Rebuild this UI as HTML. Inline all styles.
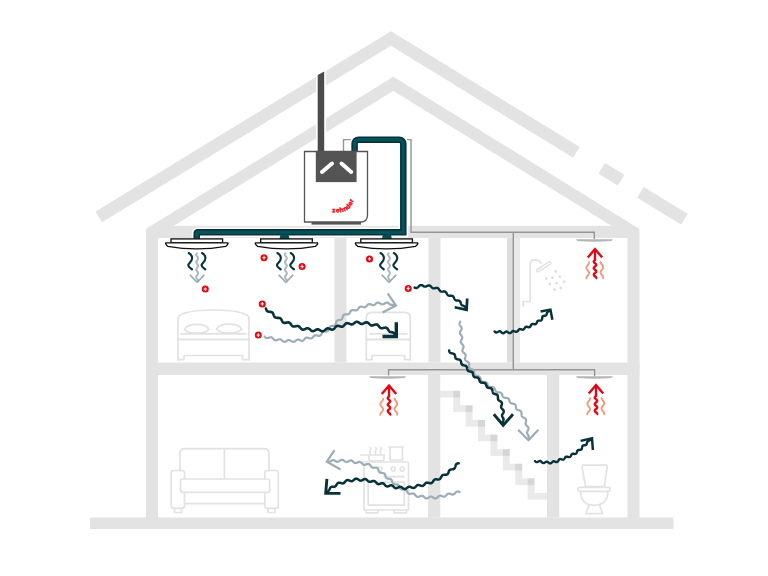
<!DOCTYPE html>
<html><head><meta charset="utf-8"><title>Ventilation diagram</title>
<style>html,body{margin:0;padding:0;background:#fff;width:768px;height:576px;overflow:hidden;}svg{display:block;font-family:"Liberation Sans",sans-serif;}</style>
</head><body>
<svg width="768" height="576" viewBox="0 0 768 576"><polyline points="98.75,216.8 391,38.5 576.4,152.3" fill="none" stroke="#e3e3e3" stroke-width="12.5" stroke-linejoin="miter" stroke-miterlimit="10"/>
<line x1="601.7" y1="168.3" x2="621.1" y2="180.2" stroke="#e3e3e3" stroke-width="12.5"/>
<line x1="640.5" y1="192.3" x2="684.4" y2="219.2" stroke="#e3e3e3" stroke-width="12.5"/>
<polyline points="152,523 152,232.2 393.4,83.8 633.5,232.3 633.5,523" fill="none" stroke="#e3e3e3" stroke-width="12" stroke-linejoin="miter" stroke-miterlimit="10"/>
<rect x="157" y="225.8" width="471.5" height="12.2" fill="#e3e3e3"/>
<rect x="146" y="362.5" width="493.5" height="12.5" fill="#e3e3e3"/>
<rect x="90" y="517.5" width="583.5" height="11.5" fill="#e3e3e3"/>
<rect x="334.5" y="238" width="12" height="124.5" fill="#e3e3e3"/>
<rect x="428.5" y="238" width="12" height="124.5" fill="#e3e3e3"/>
<rect x="507" y="238" width="6.5" height="124.5" fill="#dedede"/><rect x="513.5" y="238" width="6.5" height="124.5" fill="#e9e9e9"/>
<rect x="428" y="375" width="12.3" height="142.5" fill="#e3e3e3"/>
<rect x="547" y="375" width="12.3" height="142.5" fill="#e3e3e3"/>
<rect x="440.3" y="390.7" width="19.9" height="6.8" fill="#000" fill-opacity="0.082"/><rect x="453.2" y="390.7" width="7" height="14.6" fill="#000" fill-opacity="0.082"/><rect x="453.2" y="405.3" width="19.4" height="6.8" fill="#000" fill-opacity="0.082"/><rect x="465.6" y="405.3" width="7" height="14.6" fill="#000" fill-opacity="0.082"/><rect x="465.6" y="419.9" width="19.4" height="6.8" fill="#000" fill-opacity="0.082"/><rect x="478" y="419.9" width="7" height="14.6" fill="#000" fill-opacity="0.082"/><rect x="478" y="434.5" width="19.4" height="6.8" fill="#000" fill-opacity="0.082"/><rect x="490.4" y="434.5" width="7" height="14.6" fill="#000" fill-opacity="0.082"/><rect x="490.4" y="449.1" width="19.4" height="6.8" fill="#000" fill-opacity="0.082"/><rect x="502.8" y="449.1" width="7" height="14.6" fill="#000" fill-opacity="0.082"/><rect x="502.8" y="463.7" width="19.4" height="6.8" fill="#000" fill-opacity="0.082"/><rect x="515.2" y="463.7" width="7" height="14.6" fill="#000" fill-opacity="0.082"/><rect x="515.2" y="478.3" width="19.4" height="6.8" fill="#000" fill-opacity="0.082"/><rect x="527.6" y="478.3" width="7" height="14.6" fill="#000" fill-opacity="0.082"/><rect x="527.6" y="492.9" width="19.4" height="6.8" fill="#000" fill-opacity="0.082"/>
<g fill="none" stroke="#e2e2e2" stroke-width="1.7" stroke-linejoin="round" stroke-linecap="round"><path d="M178,360 V318.5 C178,312.5 195,310 213.5,310 C232,310 249,312.5 249,318.5 V360"/><path d="M184.7,329.3 C187.5,322.6 206.1,322.6 208.9,329.3 C206.1,334.3 187.5,334.3 184.7,329.3 Z"/><path d="M216.6,329.2 C219.4,322.5 238.8,322.5 241.6,329.2 C238.8,334.2 219.4,334.2 216.6,329.2 Z"/><path d="M181,333.8 H246"/><path d="M178,339.5 H249" stroke-width="2"/><path d="M178,359.6 H184 V355.5 H242.5 V359.6 H249"/></g>
<g fill="none" stroke="#e2e2e2" stroke-width="1.7" stroke-linejoin="round" stroke-linecap="round"><path d="M366.3,360 V318 Q366.3,312.4 372,312.4 H404.6 Q410.3,312.4 410.3,318 V360"/><path d="M366.3,339.5 H410.3" stroke-width="2"/><path d="M370,333.8 H407"/><path d="M366.3,359.6 H372 V355.5 H404.6 V359.6 H410.3"/></g>
<g fill="none" stroke="#e2e2e2" stroke-width="1.7" stroke-linejoin="round" stroke-linecap="round"><path d="M180,470.5 V453.5 Q180,448.6 185,448.6 H264 Q269,448.6 269,453.5 V470.5"/><path d="M224.4,448.6 V479"/><rect x="171.2" y="470.5" width="13.3" height="37.8" rx="2.5"/><rect x="264.8" y="470.5" width="13.5" height="37.8" rx="2.5"/><path d="M184.5,503.6 H264.8"/><rect x="180.6" y="479" width="89" height="13.3" rx="2" fill="#fff"/><path d="M174.5,508.3 V512.5 H181.5 V508.3 M268,508.3 V512.5 H275 V508.3"/></g>
<g fill="none" stroke="#e2e2e2" stroke-width="1.7" stroke-linejoin="round" stroke-linecap="round"><rect x="364" y="462" width="44.5" height="48" rx="1"/><circle cx="380" cy="469" r="2"/><circle cx="393.2" cy="469" r="2"/><circle cx="402.2" cy="469" r="2"/><path d="M384,476.7 H404"/><rect x="368.2" y="482.2" width="36.1" height="22.9"/><path d="M366,510 V512.8 H378 V510 M394,510 V512.8 H406.5 V510"/><path d="M389,447 H403.5 M390,447 V460 H402.5 V447"/><path d="M360.6,455 H384.2 M369,455 V459 Q369,460.8 371,460.8 H382 Q384,460.8 384,459 V455"/><path d="M370.3,447.5 q1.2,1.5 0,3 q-1.2,1.5 0,3 M375.8,447.5 q1.2,1.5 0,3 q-1.2,1.5 0,3 M380.7,447.5 q1.2,1.5 0,3 q-1.2,1.5 0,3"/></g>
<g fill="none" stroke="#e2e2e2" stroke-width="1.7" stroke-linejoin="round" stroke-linecap="round"><path d="M583,465.2 H606 Q607.5,465.2 607.2,467 L604.4,486.6 H585.6 L582,467 Q581.7,465.2 583,465.2 Z"/><rect x="577.8" y="487.3" width="32.3" height="4" rx="1.8"/><path d="M580.4,491.3 Q581,505.3 594.2,505.3 Q607.5,505.3 608,491.3"/><path d="M588.8,505.5 L586,513.6 H602.5 L599.7,505.5"/></g>
<g fill="none" stroke="#e2e2e2" stroke-width="1.7" stroke-linejoin="round" stroke-linecap="round"><path d="M523.3,306 V301.5 H530.1 V264 Q530.1,259.8 535.5,259.8 Q539,259.8 541,263"/><path d="M538,270.6 L549.6,263" stroke-width="4.2"/><path d="M538,270.6 L549.6,263" stroke="#fff" stroke-width="1.1"/></g>
<circle cx="555.6" cy="271.4" r="1.3" fill="#dcdcdc"/><circle cx="546.25" cy="278.6" r="1.3" fill="#dcdcdc"/><circle cx="552.5" cy="277.6" r="1.3" fill="#dcdcdc"/><circle cx="559.8" cy="276.6" r="1.3" fill="#dcdcdc"/><circle cx="549.9" cy="283.9" r="1.3" fill="#dcdcdc"/><circle cx="556.7" cy="283.3" r="1.3" fill="#dcdcdc"/><circle cx="564" cy="281.8" r="1.3" fill="#dcdcdc"/><circle cx="554.6" cy="289.6" r="1.3" fill="#dcdcdc"/><circle cx="560.8" cy="288" r="1.3" fill="#dcdcdc"/>
<path d="M343.5,152 V139.6 H411 V232.2 H594.3 V239 M513.3,232.2 V369.8 M388.6,375.5 V369.8 H594.6 V376.5" fill="none" stroke="#959595" stroke-width="1.4"/>
<path d="M576,239.2 H613 L611.5,241 Q594.5,242.4 577.5,241 Z" fill="#b4b4b4"/>
<path d="M369.1,376.2 H406.1 L404.6,378 Q387.6,379.4 370.6,378 Z" fill="#b4b4b4"/>
<path d="M576,376.3 H613 L611.5,378.1 Q594.5,379.5 577.5,378.1 Z" fill="#b4b4b4"/>
<path d="M317.7,152 V75 L324.2,71.6 V152 Z" fill="#4b4b4b" stroke="#fff" stroke-width="3.4" paint-order="stroke"/>
<path d="M196.7,239.5 V233.35 A1,1 0 0 1 197.7,232.35 H403.3 V143.7 A4,4 0 0 0 399.3,139.7 H358.6 A4,4 0 0 0 354.6,143.7 V152" fill="none" stroke="#fff" stroke-width="9.8" stroke-linejoin="miter"/>
<path d="M196.7,239.5 V233.35 A1,1 0 0 1 197.7,232.35 H403.3 V143.7 A4,4 0 0 0 399.3,139.7 H358.6 A4,4 0 0 0 354.6,143.7 V152" fill="none" stroke="#06343c" stroke-width="6.5" stroke-linejoin="miter"/>
<path d="M196.7,239.5 V233.35 A1,1 0 0 1 197.7,232.35 H403.3 V143.7 A4,4 0 0 0 399.3,139.7 H358.6 A4,4 0 0 0 354.6,143.7 V152" fill="none" stroke="#07525a" stroke-width="3.2" stroke-linejoin="miter"/>
<path d="M280.5,234.5 H288.5 L289.5,239 H279.5 Z" fill="#074b53"/>
<path d="M382.9,234.5 H390.9 L391.9,239 H381.9 Z" fill="#074b53"/>
<path d="M304.5,151.5 H367.5 V215 Q367.5,222 360.5,222 H304.5 Z" fill="#fff" stroke="#545454" stroke-width="1.3"/>
<rect x="315.8" y="151.2" width="40.8" height="30.9" fill="#545454"/>
<path d="M322,172 L332,163.5 M341.5,163.5 L351.2,172" stroke="#fff" stroke-width="4" stroke-linecap="round"/>
<rect x="311.5" y="222" width="49.5" height="2.6" fill="#545454"/>
<path id="lg" d="M332.3,212.6 L341,212.2 Q348.5,211 351.5,205.5 Q354,201 355.3,196" fill="none"/><text font-family="Liberation Sans, sans-serif" font-weight="bold" font-size="6.6" fill="#e30613" stroke="#e30613" stroke-width="0.35" letter-spacing="0.35"><textPath href="#lg">zehnder</textPath></text>
<rect x="171" y="238.9" width="51.6" height="3.8" fill="#fff" stroke="#111" stroke-width="1.35"/><path d="M165.8,242.8 H227.8 Q228.8,243.6 225.8,246.3 Q196.8,251.5 167.8,246.3 Q164.8,243.6 165.8,242.8 Z" fill="#fff" stroke="#111" stroke-width="1.35"/>
<rect x="260.7" y="238.9" width="51.6" height="3.8" fill="#fff" stroke="#111" stroke-width="1.35"/><path d="M255.5,242.8 H317.5 Q318.5,243.6 315.5,246.3 Q286.5,251.5 257.5,246.3 Q254.5,243.6 255.5,242.8 Z" fill="#fff" stroke="#111" stroke-width="1.35"/>
<rect x="360.8" y="238.9" width="51.6" height="3.8" fill="#fff" stroke="#111" stroke-width="1.35"/><path d="M355.6,242.8 H417.6 Q418.6,243.6 415.6,246.3 Q386.6,251.5 357.6,246.3 Q354.6,243.6 355.6,242.8 Z" fill="#fff" stroke="#111" stroke-width="1.35"/>
<path d="M188.7,253 C193.2,255.5 193.2,260 189.3,263.4 C186.7,265.5 189.7,267.5 192,269.4" fill="none" stroke="#08323a" stroke-width="2.1" stroke-linecap="round"/><path d="M202,253 C206.5,255.5 206.5,260 202.6,263.4 C200,265.5 203,267.5 205.3,269.4" fill="none" stroke="#08323a" stroke-width="2.1" stroke-linecap="round"/><path d="M197.2,252.7 L196.9,253.1 L196.64,253.5 L196.44,253.9 L196.32,254.3 L196.3,254.7 L196.39,255.1 L196.56,255.5 L196.8,255.9 L197.09,256.3 L197.39,256.7 L197.67,257.1 L197.89,257.5 L198.04,257.9 L198.1,258.3 L198.06,258.7 L197.92,259.1 L197.7,259.5 L197.42,259.9 L197.12,260.3 L196.83,260.7 L196.58,261.1 L196.4,261.5 L196.31,261.9 L196.32,262.3 L196.42,262.7 L196.61,263.1 L196.87,263.5 L197.16,263.9 L197.46,264.3 L197.73,264.7 L197.94,265.1 L198.07,265.5 L198.1,265.9 L198.03,266.3 L197.87,266.7 L197.63,267.1 L197.35,267.5 L197.05,267.9 L196.77,268.3 L196.53,268.7 L196.37,269.1 L196.3,269.5 L196.33,269.9 L196.46,270.3 L196.67,270.7 L196.94,271.1 L197.24,271.5 L197.53,271.9 L197.79,272.3 L197.98,272.7 L198.08,273.1 L198.09,273.5 L198,273.9 L197.82,274.3 L197.57,274.7 L197.28,275.1 L196.98,275.5 L196.7,275.9 L196.48,276.3 L196.34,276.7 L196.3,277.1 L196.36,277.5 L196.51,277.9 L196.73,278.3 L197.01,278.7 L197.31,279.1 L197.6,279.5 L197.84,279.9 L198.01,280.3 L198.1,280.7 L198.08,281.1 L197.96,281.5 L197.76,281.9" fill="none" stroke="#adbbc1" stroke-width="2.1"/><path d="M190,274.8 L197.2,282.3 L204.4,274.8" fill="none" stroke="#9cadb5" stroke-width="1.7"/>
<path d="M277.4,253 C281.9,255.5 281.9,260 278,263.4 C275.4,265.5 278.4,267.5 280.7,269.4" fill="none" stroke="#08323a" stroke-width="2.1" stroke-linecap="round"/><path d="M290.7,253 C295.2,255.5 295.2,260 291.3,263.4 C288.7,265.5 291.7,267.5 294,269.4" fill="none" stroke="#08323a" stroke-width="2.1" stroke-linecap="round"/><path d="M285.9,252.7 L285.6,253.1 L285.34,253.5 L285.14,253.9 L285.02,254.3 L285,254.7 L285.09,255.1 L285.26,255.5 L285.5,255.9 L285.79,256.3 L286.09,256.7 L286.37,257.1 L286.59,257.5 L286.74,257.9 L286.8,258.3 L286.76,258.7 L286.62,259.1 L286.4,259.5 L286.12,259.9 L285.82,260.3 L285.53,260.7 L285.28,261.1 L285.1,261.5 L285.01,261.9 L285.02,262.3 L285.12,262.7 L285.31,263.1 L285.57,263.5 L285.86,263.9 L286.16,264.3 L286.43,264.7 L286.64,265.1 L286.77,265.5 L286.8,265.9 L286.73,266.3 L286.57,266.7 L286.33,267.1 L286.05,267.5 L285.75,267.9 L285.47,268.3 L285.23,268.7 L285.07,269.1 L285,269.5 L285.03,269.9 L285.16,270.3 L285.37,270.7 L285.64,271.1 L285.94,271.5 L286.23,271.9 L286.49,272.3 L286.68,272.7 L286.78,273.1 L286.79,273.5 L286.7,273.9 L286.52,274.3 L286.27,274.7 L285.98,275.1 L285.68,275.5 L285.4,275.9 L285.18,276.3 L285.04,276.7 L285,277.1 L285.06,277.5 L285.21,277.9 L285.43,278.3 L285.71,278.7 L286.01,279.1 L286.3,279.5 L286.54,279.9 L286.71,280.3 L286.8,280.7 L286.78,281.1 L286.66,281.5 L286.46,281.9" fill="none" stroke="#adbbc1" stroke-width="2.1"/><path d="M278.7,274.8 L285.9,282.3 L293.1,274.8" fill="none" stroke="#9cadb5" stroke-width="1.7"/>
<path d="M380.5,253 C385,255.5 385,260 381.1,263.4 C378.5,265.5 381.5,267.5 383.8,269.4" fill="none" stroke="#08323a" stroke-width="2.1" stroke-linecap="round"/><path d="M393.8,253 C398.3,255.5 398.3,260 394.4,263.4 C391.8,265.5 394.8,267.5 397.1,269.4" fill="none" stroke="#08323a" stroke-width="2.1" stroke-linecap="round"/><path d="M389,252.7 L388.7,253.1 L388.44,253.5 L388.24,253.9 L388.12,254.3 L388.1,254.7 L388.19,255.1 L388.36,255.5 L388.6,255.9 L388.89,256.3 L389.19,256.7 L389.47,257.1 L389.69,257.5 L389.84,257.9 L389.9,258.3 L389.86,258.7 L389.72,259.1 L389.5,259.5 L389.22,259.9 L388.92,260.3 L388.63,260.7 L388.38,261.1 L388.2,261.5 L388.11,261.9 L388.12,262.3 L388.22,262.7 L388.41,263.1 L388.67,263.5 L388.96,263.9 L389.26,264.3 L389.53,264.7 L389.74,265.1 L389.87,265.5 L389.9,265.9 L389.83,266.3 L389.67,266.7 L389.43,267.1 L389.15,267.5 L388.85,267.9 L388.57,268.3 L388.33,268.7 L388.17,269.1 L388.1,269.5 L388.13,269.9 L388.26,270.3 L388.47,270.7 L388.74,271.1 L389.04,271.5 L389.33,271.9 L389.59,272.3 L389.78,272.7 L389.88,273.1 L389.89,273.5 L389.8,273.9 L389.62,274.3 L389.37,274.7 L389.08,275.1 L388.78,275.5 L388.5,275.9 L388.28,276.3 L388.14,276.7 L388.1,277.1 L388.16,277.5 L388.31,277.9 L388.53,278.3 L388.81,278.7 L389.11,279.1 L389.4,279.5 L389.64,279.9 L389.81,280.3 L389.9,280.7 L389.88,281.1 L389.76,281.5 L389.56,281.9" fill="none" stroke="#adbbc1" stroke-width="2.1"/><path d="M381.8,274.8 L389,282.3 L396.2,274.8" fill="none" stroke="#9cadb5" stroke-width="1.7"/>
<circle cx="205.3" cy="289.1" r="3.5" fill="#e30613"/><path d="M203.7,289.1 H206.9 M205.3,287.2 V291" stroke="#fff" stroke-width="1"/>
<circle cx="264" cy="257.7" r="3.5" fill="#e30613"/><path d="M262.4,257.7 H265.6 M264,255.8 V259.6" stroke="#fff" stroke-width="1"/>
<circle cx="302.1" cy="266.6" r="3.5" fill="#e30613"/><path d="M300.5,266.6 H303.7 M302.1,264.7 V268.5" stroke="#fff" stroke-width="1"/>
<circle cx="369.5" cy="258.9" r="3.5" fill="#e30613"/><path d="M367.9,258.9 H371.1 M369.5,257 V260.8" stroke="#fff" stroke-width="1"/>
<circle cx="408.2" cy="288.4" r="3.5" fill="#e30613"/><path d="M406.6,288.4 H409.8 M408.2,286.5 V290.3" stroke="#fff" stroke-width="1"/>
<circle cx="262.3" cy="303.9" r="3.5" fill="#e30613"/><path d="M260.7,303.9 H263.9 M262.3,302 V305.8" stroke="#fff" stroke-width="1"/>
<circle cx="258.3" cy="335.1" r="3.5" fill="#e30613"/><path d="M256.7,335.1 H259.9 M258.3,333.2 V337" stroke="#fff" stroke-width="1"/>
<path d="M587.8,257.5 L595,249 L602.2,257.5" fill="none" stroke="#e30613" stroke-width="2.4" stroke-linejoin="miter"/><path d="M595,250 V260 L595,260 L594.55,260.4 L594.16,260.8 L593.9,261.2 L593.8,261.6 L593.88,262 L594.12,262.4 L594.49,262.8 L594.94,263.2 L595.4,263.6 L595.8,264 L596.08,264.4 L596.2,264.8 L596.14,265.2 L595.92,265.6 L595.56,266 L595.12,266.4 L594.66,266.8 L594.25,267.2 L593.95,267.6 L593.81,268 L593.84,268.4 L594.05,268.8 L594.39,269.2 L594.83,269.6 L595.29,270 L595.71,270.4 L596.02,270.8 L596.18,271.2 L596.17,271.6 L595.99,272 L595.66,272.4 L595.23,272.8 L594.77,273.2 L594.34,273.6 L594.01,274 L593.83,274.4 L593.82,274.8 L593.98,275.2 L594.29,275.6 L594.71,276 L595.17,276.4 L595.61,276.8 L595.95,277.2 L596.16,277.6 L596.19,278 L596.05,278.4 L595.75,278.8" fill="none" stroke="#e30613" stroke-width="2.4"/><path d="M589.04,262.2 L589.04,262.6 L588.97,263 L588.82,263.4 L588.61,263.8 L588.35,264.2 L588.05,264.6 L587.73,265 L587.41,265.4 L587.11,265.8 L586.84,266.2 L586.62,266.6 L586.46,267 L586.37,267.4 L586.35,267.8 L586.42,268.2 L586.56,268.6 L586.76,269 L587.01,269.4 L587.31,269.8 L587.63,270.2 L587.95,270.6 L588.26,271 L588.53,271.4 L588.76,271.8 L588.93,272.2 L589.03,272.6 L589.05,273 L588.99,273.4 L588.87,273.8 L588.67,274.2 L588.42,274.6 L588.13,275 L587.81,275.4 L587.49,275.8 L587.18,276.2 L586.9,276.6 L586.67,277 L586.49,277.4 L586.38,277.8 L586.35,278.2" fill="none" stroke="#f39874" stroke-width="1.9" stroke-linecap="round"/><path d="M600.56,262.2 L600.64,262.6 L600.79,263 L601.01,263.4 L601.27,263.8 L601.57,264.2 L601.89,264.6 L602.21,265 L602.52,265.4 L602.78,265.8 L603,266.2 L603.15,266.6 L603.24,267 L603.24,267.4 L603.17,267.8 L603.03,268.2 L602.82,268.6 L602.56,269 L602.27,269.4 L601.95,269.8 L601.63,270.2 L601.32,270.6 L601.05,271 L600.82,271.4 L600.66,271.8 L600.57,272.2 L600.55,272.6 L600.61,273 L600.75,273.4 L600.95,273.8 L601.2,274.2 L601.5,274.6 L601.81,275 L602.13,275.4 L602.44,275.8 L602.72,276.2 L602.95,276.6 L603.12,277 L603.22,277.4 L603.25,277.8 L603.2,278.2" fill="none" stroke="#f39874" stroke-width="1.9" stroke-linecap="round"/>
<path d="M381.8,394 L389,385.5 L396.2,394" fill="none" stroke="#e30613" stroke-width="2.4" stroke-linejoin="miter"/><path d="M389,386.5 V396.5 L389,396.5 L388.55,396.9 L388.16,397.3 L387.9,397.7 L387.8,398.1 L387.88,398.5 L388.12,398.9 L388.49,399.3 L388.94,399.7 L389.4,400.1 L389.8,400.5 L390.08,400.9 L390.2,401.3 L390.14,401.7 L389.92,402.1 L389.56,402.5 L389.12,402.9 L388.66,403.3 L388.25,403.7 L387.95,404.1 L387.81,404.5 L387.84,404.9 L388.05,405.3 L388.39,405.7 L388.83,406.1 L389.29,406.5 L389.71,406.9 L390.02,407.3 L390.18,407.7 L390.17,408.1 L389.99,408.5 L389.66,408.9 L389.23,409.3 L388.77,409.7 L388.34,410.1 L388.01,410.5 L387.83,410.9 L387.82,411.3 L387.98,411.7 L388.29,412.1 L388.71,412.5 L389.17,412.9 L389.61,413.3 L389.95,413.7 L390.16,414.1 L390.19,414.5 L390.05,414.9 L389.75,415.3" fill="none" stroke="#e30613" stroke-width="2.4"/><path d="M383.04,398.7 L383.04,399.1 L382.97,399.5 L382.82,399.9 L382.61,400.3 L382.35,400.7 L382.05,401.1 L381.73,401.5 L381.41,401.9 L381.11,402.3 L380.84,402.7 L380.62,403.1 L380.46,403.5 L380.37,403.9 L380.35,404.3 L380.42,404.7 L380.56,405.1 L380.76,405.5 L381.01,405.9 L381.31,406.3 L381.63,406.7 L381.95,407.1 L382.26,407.5 L382.53,407.9 L382.76,408.3 L382.93,408.7 L383.03,409.1 L383.05,409.5 L382.99,409.9 L382.87,410.3 L382.67,410.7 L382.42,411.1 L382.13,411.5 L381.81,411.9 L381.49,412.3 L381.18,412.7 L380.9,413.1 L380.67,413.5 L380.49,413.9 L380.38,414.3 L380.35,414.7" fill="none" stroke="#f39874" stroke-width="1.9" stroke-linecap="round"/><path d="M394.56,398.7 L394.64,399.1 L394.79,399.5 L395.01,399.9 L395.27,400.3 L395.57,400.7 L395.89,401.1 L396.21,401.5 L396.52,401.9 L396.78,402.3 L397,402.7 L397.15,403.1 L397.24,403.5 L397.24,403.9 L397.17,404.3 L397.03,404.7 L396.82,405.1 L396.56,405.5 L396.27,405.9 L395.95,406.3 L395.63,406.7 L395.32,407.1 L395.05,407.5 L394.82,407.9 L394.66,408.3 L394.57,408.7 L394.55,409.1 L394.61,409.5 L394.75,409.9 L394.95,410.3 L395.2,410.7 L395.5,411.1 L395.81,411.5 L396.13,411.9 L396.44,412.3 L396.72,412.7 L396.95,413.1 L397.12,413.5 L397.22,413.9 L397.25,414.3 L397.2,414.7" fill="none" stroke="#f39874" stroke-width="1.9" stroke-linecap="round"/>
<path d="M588.8,393.5 L596,385 L603.2,393.5" fill="none" stroke="#e30613" stroke-width="2.4" stroke-linejoin="miter"/><path d="M596,386 V396 L596,396 L595.55,396.4 L595.16,396.8 L594.9,397.2 L594.8,397.6 L594.88,398 L595.12,398.4 L595.49,398.8 L595.94,399.2 L596.4,399.6 L596.8,400 L597.08,400.4 L597.2,400.8 L597.14,401.2 L596.92,401.6 L596.56,402 L596.12,402.4 L595.66,402.8 L595.25,403.2 L594.95,403.6 L594.81,404 L594.84,404.4 L595.05,404.8 L595.39,405.2 L595.83,405.6 L596.29,406 L596.71,406.4 L597.02,406.8 L597.18,407.2 L597.17,407.6 L596.99,408 L596.66,408.4 L596.23,408.8 L595.77,409.2 L595.34,409.6 L595.01,410 L594.83,410.4 L594.82,410.8 L594.98,411.2 L595.29,411.6 L595.71,412 L596.17,412.4 L596.61,412.8 L596.95,413.2 L597.16,413.6 L597.19,414 L597.05,414.4 L596.75,414.8" fill="none" stroke="#e30613" stroke-width="2.4"/><path d="M590.04,398.2 L590.04,398.6 L589.97,399 L589.82,399.4 L589.61,399.8 L589.35,400.2 L589.05,400.6 L588.73,401 L588.41,401.4 L588.11,401.8 L587.84,402.2 L587.62,402.6 L587.46,403 L587.37,403.4 L587.35,403.8 L587.42,404.2 L587.56,404.6 L587.76,405 L588.01,405.4 L588.31,405.8 L588.63,406.2 L588.95,406.6 L589.26,407 L589.53,407.4 L589.76,407.8 L589.93,408.2 L590.03,408.6 L590.05,409 L589.99,409.4 L589.87,409.8 L589.67,410.2 L589.42,410.6 L589.13,411 L588.81,411.4 L588.49,411.8 L588.18,412.2 L587.9,412.6 L587.67,413 L587.49,413.4 L587.38,413.8 L587.35,414.2" fill="none" stroke="#f39874" stroke-width="1.9" stroke-linecap="round"/><path d="M601.56,398.2 L601.64,398.6 L601.79,399 L602.01,399.4 L602.27,399.8 L602.57,400.2 L602.89,400.6 L603.21,401 L603.52,401.4 L603.78,401.8 L604,402.2 L604.15,402.6 L604.24,403 L604.24,403.4 L604.17,403.8 L604.03,404.2 L603.82,404.6 L603.56,405 L603.27,405.4 L602.95,405.8 L602.63,406.2 L602.32,406.6 L602.05,407 L601.82,407.4 L601.66,407.8 L601.57,408.2 L601.55,408.6 L601.61,409 L601.75,409.4 L601.95,409.8 L602.2,410.2 L602.5,410.6 L602.81,411 L603.13,411.4 L603.44,411.8 L603.72,412.2 L603.95,412.6 L604.12,413 L604.22,413.4 L604.25,413.8 L604.2,414.2" fill="none" stroke="#f39874" stroke-width="1.9" stroke-linecap="round"/>
<path d="M264.6,336.5 L264.91,336.87 L265.23,337.22 L265.56,337.54 L265.9,337.79 L266.26,337.98 L266.64,338.1 L267.05,338.14 L267.47,338.12 L267.91,338.03 L268.36,337.9 L268.82,337.74 L269.28,337.58 L269.73,337.43 L270.18,337.32 L270.61,337.26 L271.02,337.26 L271.41,337.33 L271.78,337.47 L272.14,337.69 L272.48,337.97 L272.81,338.29 L273.13,338.64 L273.46,339 L273.79,339.35 L274.12,339.67 L274.47,339.95 L274.83,340.16 L275.22,340.29 L275.61,340.35 L276.03,340.34 L276.46,340.26 L276.9,340.13 L277.35,339.95 L277.8,339.76 L278.24,339.58 L278.68,339.42 L279.11,339.29 L279.52,339.23 L279.92,339.24 L280.3,339.31 L280.68,339.46 L281.04,339.68 L281.4,339.95 L281.76,340.25 L282.12,340.58 L282.48,340.9 L282.85,341.2 L283.23,341.45 L283.62,341.65 L284.02,341.77 L284.42,341.81 L284.83,341.78 L285.25,341.67 L285.67,341.49 L286.08,341.27 L286.5,341.02 L286.91,340.76 L287.32,340.52 L287.72,340.3 L288.12,340.14 L288.52,340.05 L288.91,340.02 L289.3,340.07 L289.7,340.2 L290.09,340.38 L290.49,340.61 L290.9,340.87 L291.3,341.14 L291.71,341.4 L292.12,341.62 L292.53,341.79 L292.94,341.9 L293.35,341.93 L293.76,341.87 L294.15,341.74 L294.55,341.54 L294.93,341.29 L295.31,341 L295.68,340.68 L296.06,340.38 L296.43,340.09 L296.8,339.85 L297.17,339.67 L297.56,339.55 L297.95,339.51 L298.35,339.54 L298.76,339.64 L299.18,339.8 L299.62,339.99 L300.05,340.19 L300.5,340.4 L300.94,340.58 L301.38,340.71 L301.81,340.79 L302.22,340.79 L302.63,340.71 L303.01,340.55 L303.37,340.33 L303.72,340.04 L304.05,339.7 L304.37,339.34 L304.69,338.97 L305.01,338.61 L305.33,338.29 L305.67,338.02 L306.03,337.82 L306.4,337.68 L306.8,337.62 L307.22,337.63 L307.65,337.7 L308.1,337.82 L308.56,337.97 L309.02,338.13 L309.48,338.28 L309.92,338.41 L310.36,338.48 L310.77,338.5 L311.17,338.44 L311.55,338.31 L311.91,338.11 L312.25,337.84 L312.58,337.53 L312.9,337.17 L313.22,336.8 L313.53,336.43 L313.85,336.09 L314.18,335.8 L314.53,335.56 L314.89,335.38 L315.27,335.28 L315.67,335.25 L316.09,335.28 L316.53,335.37 L316.99,335.48 L317.45,335.61 L317.92,335.74 L318.39,335.83 L318.85,335.88 L319.29,335.87 L319.7,335.79 L320.08,335.63 L320.43,335.4 L320.74,335.1 L321.03,334.74 L321.28,334.34 L321.51,333.91 L321.73,333.48 L321.95,333.06 L322.18,332.67 L322.43,332.32 L322.71,332.03 L323.02,331.8 L323.37,331.63 L323.77,331.52 L324.2,331.46 L324.66,331.43 L325.14,331.43 L325.63,331.43 L326.11,331.42 L326.58,331.38 L327.02,331.29 L327.42,331.15 L327.77,330.95 L328.08,330.68 L328.34,330.35 L328.55,329.97 L328.73,329.54 L328.89,329.09 L329.03,328.62 L329.17,328.16 L329.33,327.72 L329.51,327.31 L329.73,326.96 L330,326.65 L330.31,326.41 L330.67,326.22 L331.08,326.09 L331.52,326 L331.99,325.94 L332.48,325.89 L332.96,325.85 L333.43,325.79 L333.88,325.7 L334.28,325.56 L334.65,325.37 L334.96,325.12 L335.22,324.82 L335.44,324.45 L335.62,324.04 L335.77,323.6 L335.91,323.14 L336.03,322.67 L336.17,322.21 L336.32,321.78 L336.51,321.39 L336.73,321.05 L337.01,320.76 L337.34,320.53 L337.72,320.36 L338.14,320.23 L338.59,320.14 L339.07,320.07 L339.55,320.01 L340.03,319.94 L340.48,319.84 L340.9,319.71 L341.28,319.54 L341.61,319.31 L341.89,319.02 L342.12,318.68 L342.3,318.29 L342.45,317.86 L342.58,317.41 L342.71,316.94 L342.84,316.47 L343,316.02 L343.19,315.61 L343.42,315.25 L343.7,314.94 L344.03,314.7 L344.41,314.52 L344.83,314.41 L345.29,314.34 L345.77,314.32 L346.26,314.33 L346.74,314.34 L347.21,314.35 L347.66,314.33 L348.07,314.26 L348.45,314.14 L348.8,313.95 L349.1,313.7 L349.38,313.4 L349.64,313.03 L349.87,312.63 L350.11,312.21 L350.34,311.79 L350.59,311.37 L350.86,311 L351.15,310.67 L351.48,310.41 L351.84,310.21 L352.23,310.09 L352.64,310.04 L353.09,310.05 L353.55,310.11 L354.02,310.2 L354.5,310.3 L354.97,310.39 L355.43,310.45 L355.88,310.46 L356.29,310.42 L356.68,310.31 L357.04,310.13 L357.36,309.88 L357.66,309.56 L357.94,309.2 L358.21,308.81 L358.48,308.4 L358.75,308 L359.03,307.63 L359.34,307.29 L359.66,307.02 L360.02,306.81 L360.4,306.68 L360.81,306.62 L361.24,306.63 L361.69,306.69 L362.16,306.8 L362.63,306.93 L363.09,307.06 L363.55,307.17 L363.99,307.25 L364.42,307.28 L364.82,307.24 L365.2,307.13 L365.56,306.95 L365.9,306.71 L366.22,306.4 L366.53,306.06 L366.85,305.69 L367.16,305.31 L367.48,304.96 L367.81,304.64 L368.16,304.37 L368.53,304.17 L368.91,304.05 L369.32,304 L369.74,304.03 L370.18,304.12 L370.62,304.26 L371.07,304.44 L371.52,304.63 L371.96,304.81 L372.4,304.97 L372.82,305.08 L373.23,305.12 L373.63,305.1 L374.01,305.01 L374.38,304.84 L374.74,304.62 L375.1,304.34 L375.46,304.02 L375.82,303.69 L376.19,303.38 L376.56,303.09 L376.94,302.84 L377.33,302.67 L377.74,302.56 L378.14,302.54 L378.56,302.6 L378.97,302.73 L379.39,302.92 L379.8,303.15 L380.21,303.41 L380.62,303.68 L381.03,303.92 L381.43,304.13 L381.82,304.28 L382.22,304.36 L382.61,304.37 L383.01,304.3 L383.4,304.17 L383.8,303.98 L384.2,303.74 L384.61,303.48 L385.02,303.22 L385.43,302.97 L385.85,302.77 L386.26,302.62 L386.68,302.54 L387.09,302.55 L387.49,302.63 L387.89,302.79 L388.28,303.02 L388.66,303.31 L389.02,303.64 L389.37,303.96 L389.71,304.24 L390.07,304.47 L390.43,304.64 L390.81,304.76 L391.2,304.82 L391.6,304.84 L392.01,304.85 L392.42,304.85 L392.84,304.85 L393.25,304.89 L393.65,304.95 L394.03,305.05 L394.41,305.17" fill="none" stroke="#9cadb5" stroke-width="2.2" stroke-linecap="round"/><path d="M387.7,293.3 396,305.6 382.5,312.4" fill="none" stroke="#9cadb5" stroke-width="2.2" stroke-linejoin="miter"/>
<path d="M265.9,308.5 L266.03,308.97 L266.16,309.42 L266.32,309.85 L266.5,310.24 L266.73,310.6 L267,310.9 L267.31,311.15 L267.67,311.35 L268.07,311.5 L268.51,311.61 L268.97,311.68 L269.45,311.74 L269.93,311.79 L270.41,311.84 L270.87,311.91 L271.3,312.01 L271.7,312.15 L272.06,312.33 L272.38,312.57 L272.65,312.85 L272.89,313.19 L273.09,313.57 L273.27,313.99 L273.43,314.43 L273.59,314.89 L273.74,315.35 L273.91,315.79 L274.1,316.21 L274.32,316.59 L274.57,316.93 L274.86,317.21 L275.2,317.43 L275.58,317.6 L275.99,317.72 L276.43,317.79 L276.9,317.82 L277.38,317.84 L277.87,317.84 L278.35,317.85 L278.81,317.87 L279.25,317.93 L279.66,318.02 L280.04,318.17 L280.38,318.37 L280.68,318.62 L280.95,318.93 L281.19,319.29 L281.41,319.68 L281.62,320.1 L281.83,320.54 L282.05,320.97 L282.28,321.39 L282.54,321.78 L282.83,322.12 L283.15,322.41 L283.5,322.63 L283.88,322.79 L284.29,322.88 L284.73,322.91 L285.18,322.88 L285.64,322.81 L286.12,322.72 L286.59,322.61 L287.06,322.5 L287.52,322.42 L287.96,322.37 L288.38,322.37 L288.79,322.43 L289.17,322.55 L289.52,322.74 L289.86,322.99 L290.17,323.29 L290.47,323.64 L290.76,324.02 L291.04,324.42 L291.31,324.82 L291.58,325.2 L291.87,325.56 L292.18,325.87 L292.5,326.13 L292.85,326.33 L293.23,326.46 L293.63,326.53 L294.06,326.55 L294.5,326.51 L294.97,326.44 L295.44,326.34 L295.91,326.23 L296.38,326.13 L296.84,326.05 L297.28,326 L297.7,326 L298.1,326.06 L298.47,326.17 L298.82,326.35 L299.16,326.59 L299.47,326.88 L299.78,327.21 L300.08,327.57 L300.39,327.94 L300.7,328.31 L301.03,328.66 L301.37,328.98 L301.73,329.24 L302.1,329.45 L302.49,329.59 L302.9,329.65 L303.32,329.65 L303.74,329.58 L304.18,329.45 L304.62,329.28 L305.06,329.09 L305.5,328.88 L305.93,328.67 L306.36,328.49 L306.78,328.35 L307.19,328.26 L307.6,328.23 L308,328.27 L308.38,328.37 L308.76,328.54 L309.14,328.77 L309.51,329.04 L309.87,329.35 L310.23,329.67 L310.59,330 L310.95,330.31 L311.31,330.58 L311.68,330.81 L312.07,330.98 L312.46,331.09 L312.86,331.13 L313.28,331.09 L313.7,331 L314.12,330.84 L314.55,330.64 L314.98,330.41 L315.4,330.17 L315.81,329.94 L316.22,329.72 L316.62,329.54 L317.02,329.4 L317.4,329.33 L317.79,329.31 L318.18,329.37 L318.57,329.48 L318.96,329.64 L319.36,329.85 L319.77,330.09 L320.18,330.34 L320.6,330.59 L321.02,330.82 L321.44,331.01 L321.86,331.15 L322.27,331.23 L322.68,331.25 L323.08,331.19 L323.48,331.06 L323.86,330.87 L324.24,330.63 L324.61,330.34 L324.98,330.03 L325.34,329.7 L325.7,329.38 L326.06,329.09 L326.42,328.83 L326.79,328.63 L327.17,328.48 L327.56,328.4 L327.95,328.39 L328.36,328.44 L328.78,328.54 L329.21,328.69 L329.65,328.87 L330.09,329.06 L330.54,329.25 L330.99,329.42 L331.44,329.54 L331.88,329.62 L332.31,329.63 L332.72,329.57 L333.11,329.45 L333.48,329.25 L333.83,328.99 L334.16,328.68 L334.47,328.33 L334.77,327.96 L335.07,327.57 L335.36,327.19 L335.67,326.84 L335.98,326.52 L336.31,326.26 L336.67,326.05 L337.04,325.9 L337.44,325.83 L337.86,325.81 L338.3,325.86 L338.75,325.95 L339.21,326.07 L339.68,326.22 L340.14,326.37 L340.59,326.51 L341.03,326.62 L341.46,326.68 L341.88,326.69 L342.28,326.64 L342.66,326.51 L343.02,326.32 L343.37,326.08 L343.7,325.78 L344.02,325.44 L344.34,325.08 L344.65,324.7 L344.97,324.34 L345.3,324.01 L345.64,323.71 L345.99,323.47 L346.36,323.29 L346.75,323.17 L347.16,323.13 L347.58,323.15 L348.02,323.23 L348.46,323.37 L348.91,323.53 L349.36,323.72 L349.8,323.92 L350.23,324.1 L350.66,324.25 L351.07,324.37 L351.48,324.42 L351.87,324.42 L352.26,324.35 L352.64,324.22 L353.01,324.03 L353.38,323.79 L353.75,323.51 L354.12,323.2 L354.5,322.89 L354.88,322.59 L355.26,322.32 L355.65,322.1 L356.05,321.93 L356.45,321.82 L356.86,321.78 L357.27,321.82 L357.68,321.93 L358.09,322.09 L358.5,322.31 L358.9,322.56 L359.3,322.84 L359.7,323.11 L360.09,323.38 L360.48,323.61 L360.87,323.8 L361.26,323.93 L361.65,324 L362.04,324 L362.43,323.94 L362.84,323.82 L363.24,323.65 L363.66,323.44 L364.08,323.22 L364.51,322.98 L364.94,322.76 L365.37,322.57 L365.79,322.42 L366.22,322.33 L366.63,322.3 L367.04,322.34 L367.43,322.46 L367.81,322.64 L368.18,322.88 L368.54,323.17 L368.89,323.49 L369.24,323.83 L369.58,324.18 L369.92,324.5 L370.26,324.8 L370.62,325.05 L370.98,325.25 L371.36,325.38 L371.75,325.45 L372.15,325.45 L372.57,325.4 L373,325.29 L373.44,325.15 L373.89,324.99 L374.35,324.83 L374.8,324.67 L375.26,324.54 L375.7,324.45 L376.13,324.42 L376.54,324.45 L376.93,324.54 L377.31,324.71 L377.66,324.93 L378,325.22 L378.32,325.55 L378.62,325.91 L378.92,326.3 L379.22,326.68 L379.52,327.04 L379.83,327.38 L380.15,327.67 L380.49,327.91 L380.85,328.09 L381.23,328.2 L381.63,328.25 L382.05,328.24 L382.49,328.18 L382.95,328.09 L383.42,327.98 L383.89,327.86 L384.36,327.75 L384.82,327.67 L385.27,327.63 L385.7,327.65 L386.11,327.72 L386.49,327.86 L386.84,328.06 L387.17,328.33 L387.48,328.65 L387.76,329.01 L388.02,329.41 L388.27,329.83 L388.52,330.24 L388.77,330.65 L389.02,331.02 L389.29,331.35 L389.58,331.63 L389.91,331.84 L390.29,331.94 L390.69,332 L391.1,332.05 L391.53,332.1 L391.96,332.16 L392.38,332.26 L392.79,332.39 L393.17,332.57 L393.51,332.79 L393.83,333.04 L394.11,333.33 L394.36,333.65 L394.6,333.98 L394.84,334.3" fill="none" stroke="#08323a" stroke-width="2.6" stroke-linecap="round"/><path d="M396.3,322.3 396.3,336.5 382.5,336.5" fill="none" stroke="#08323a" stroke-width="3.4" stroke-linejoin="miter" stroke-linecap="butt"/>
<path d="M414.6,287.6 L415.05,287.76 L415.51,287.88 L415.95,287.96 L416.37,287.98 L416.78,287.93 L417.15,287.8 L417.51,287.61 L417.85,287.35 L418.18,287.03 L418.5,286.69 L418.82,286.33 L419.15,285.99 L419.49,285.67 L419.85,285.41 L420.23,285.22 L420.62,285.11 L421.04,285.08 L421.47,285.13 L421.91,285.25 L422.34,285.43 L422.77,285.66 L423.18,285.9 L423.58,286.14 L423.96,286.35 L424.35,286.51 L424.73,286.61 L425.11,286.63 L425.5,286.59 L425.9,286.49 L426.31,286.33 L426.73,286.14 L427.16,285.93 L427.6,285.73 L428.04,285.57 L428.47,285.46 L428.9,285.41 L429.31,285.44 L429.71,285.55 L430.08,285.73 L430.44,285.99 L430.78,286.3 L431.11,286.64 L431.43,287 L431.75,287.35 L432.07,287.67 L432.4,287.93 L432.75,288.14 L433.11,288.28 L433.5,288.35 L433.91,288.35 L434.34,288.31 L434.8,288.22 L435.26,288.11 L435.73,288.01 L436.19,287.93 L436.64,287.89 L437.07,287.91 L437.48,288 L437.85,288.16 L438.19,288.4 L438.5,288.7 L438.78,289.05 L439.04,289.44 L439.3,289.85 L439.56,290.25 L439.82,290.62 L440.1,290.96 L440.41,291.23 L440.76,291.44 L441.13,291.58 L441.53,291.65 L441.97,291.67 L442.42,291.64 L442.89,291.59 L443.37,291.54 L443.84,291.5 L444.3,291.49 L444.73,291.54 L445.13,291.65 L445.49,291.83 L445.82,292.07 L446.1,292.39 L446.36,292.75 L446.6,293.16 L446.82,293.58 L447.04,294.01 L447.26,294.41 L447.51,294.78 L447.79,295.1 L448.1,295.35 L448.45,295.54 L448.84,295.66 L449.26,295.73 L449.71,295.75 L450.19,295.74 L450.66,295.72 L451.14,295.71 L451.6,295.74 L452.04,295.8 L452.44,295.93 L452.79,296.12 L453.11,296.37 L453.38,296.7 L453.62,297.07 L453.82,297.49 L454.01,297.93 L454.19,298.37 L454.38,298.8 L454.58,299.2 L454.82,299.55 L455.1,299.85 L455.41,300.08 L455.78,300.26 L456.19,300.37 L456.63,300.45 L457.09,300.49 L457.57,300.51 L458.05,300.54 L458.51,300.6 L458.95,300.69 L459.34,300.84 L459.7,301.04 L460,301.31 L460.25,301.64 L460.46,302.03 L460.63,302.45 L460.78,302.9 L460.92,303.36 L461.06,303.81 L461.22,304.24 L461.41,304.62 L461.67,304.92 L461.99,305.16 L462.35,305.35 L462.74,305.5 L463.14,305.65 L463.55,305.8 L463.94,305.97 L464.3,306.19 L464.63,306.44 L464.92,306.72 L465.17,307.04 L465.38,307.38 L465.58,307.74 L465.76,308.1 L465.97,308.45" fill="none" stroke="#08323a" stroke-width="2.4" stroke-linecap="round"/><path d="M467.2,298.5 466.6,309.9 454.7,307.2" fill="none" stroke="#08323a" stroke-width="2.6999999999999997" stroke-linejoin="miter" stroke-linecap="butt"/>
<path d="M494.6,331.4 L494.96,331.75 L495.32,332.07 L495.69,332.31 L496.07,332.45 L496.47,332.47 L496.89,332.39 L497.32,332.22 L497.75,331.98 L498.19,331.72 L498.62,331.49 L499.05,331.31 L499.46,331.22 L499.85,331.23 L500.24,331.36 L500.61,331.6 L500.98,331.9 L501.35,332.24 L501.72,332.59 L502.1,332.88 L502.49,333.1 L502.89,333.21 L503.31,333.2 L503.72,333.08 L504.13,332.86 L504.54,332.58 L504.94,332.27 L505.34,331.98 L505.74,331.75 L506.14,331.61 L506.53,331.58 L506.93,331.66 L507.33,331.84 L507.73,332.09 L508.14,332.39 L508.56,332.67 L508.97,332.92 L509.39,333.08 L509.81,333.13 L510.21,333.07 L510.6,332.89 L510.98,332.61 L511.35,332.28 L511.7,331.91 L512.05,331.57 L512.4,331.28 L512.76,331.08 L513.14,330.98 L513.54,330.98 L513.96,331.08 L514.4,331.25 L514.86,331.46 L515.33,331.65 L515.79,331.81 L516.23,331.88 L516.65,331.85 L517.03,331.7 L517.37,331.45 L517.69,331.11 L517.98,330.71 L518.27,330.29 L518.55,329.89 L518.86,329.54 L519.19,329.28 L519.55,329.13 L519.96,329.08 L520.4,329.12 L520.86,329.24 L521.34,329.4 L521.82,329.55 L522.29,329.67 L522.73,329.71 L523.14,329.66 L523.51,329.49 L523.84,329.22 L524.13,328.87 L524.41,328.45 L524.67,328.02 L524.94,327.6 L525.22,327.24 L525.54,326.97 L525.9,326.79 L526.3,326.73 L526.74,326.75 L527.21,326.84 L527.69,326.97 L528.18,327.1 L528.66,327.19 L529.1,327.2 L529.51,327.11 L529.86,326.92 L530.17,326.63 L530.44,326.25 L530.69,325.82 L530.92,325.37 L531.15,324.93 L531.41,324.55 L531.71,324.26 L532.06,324.06 L532.45,323.96 L532.89,323.96 L533.37,324.02 L533.86,324.11 L534.36,324.21 L534.84,324.26 L535.28,324.24 L535.68,324.13 L536.03,323.91 L536.32,323.6 L536.56,323.2 L536.76,322.75 L536.95,322.28 L537.14,321.82 L537.36,321.42 L537.61,321.09 L537.92,320.86 L538.29,320.71 L538.72,320.64 L539.19,320.63 L539.69,320.63 L540.19,320.61 L540.68,320.55 L541.11,320.41 L541.48,320.19 L541.75,319.88 L541.95,319.49 L542.06,319.04 L542.13,318.54 L542.17,318.04 L542.22,317.55 L542.32,317.09 L542.48,316.7 L542.72,316.39 L543.06,316.14 L543.47,315.97 L543.94,315.85 L544.44,315.77 L544.93,315.7 L545.4,315.6 L545.82,315.45 L546.12,315.19 L546.35,314.85 L546.51,314.44 L546.63,314.01 L546.75,313.56 L546.89,313.14 L547.07,312.75 L547.29,312.41 L547.56,312.11 L547.87,311.86 L548.21,311.63 L548.55,311.4 L548.88,311.17 L549.19,310.91 L549.47,310.63" fill="none" stroke="#08323a" stroke-width="2.4" stroke-linecap="round"/><path d="M540.6,311.4 550.4,309.6 552.4,319.8" fill="none" stroke="#08323a" stroke-width="2.5" stroke-linejoin="miter" stroke-linecap="butt"/>
<path d="M460.3,321.7 L460.06,322.12 L459.83,322.53 L459.64,322.94 L459.51,323.35 L459.45,323.75 L459.46,324.15 L459.55,324.54 L459.71,324.94 L459.93,325.32 L460.2,325.71 L460.49,326.1 L460.79,326.48 L461.07,326.87 L461.32,327.25 L461.51,327.64 L461.64,328.04 L461.69,328.43 L461.66,328.84 L461.56,329.24 L461.4,329.65 L461.19,330.06 L460.94,330.48 L460.69,330.89 L460.45,331.31 L460.23,331.72 L460.07,332.14 L459.98,332.54 L459.96,332.95 L460.01,333.35 L460.14,333.74 L460.34,334.13 L460.6,334.51 L460.89,334.89 L461.2,335.27 L461.5,335.65 L461.77,336.02 L462.01,336.4 L462.18,336.79 L462.28,337.18 L462.31,337.58 L462.26,337.98 L462.14,338.39 L461.97,338.81 L461.76,339.23 L461.52,339.66 L461.29,340.08 L461.09,340.51 L460.92,340.94 L460.82,341.36 L460.78,341.77 L460.83,342.17 L460.95,342.57 L461.15,342.95 L461.41,343.32 L461.72,343.68 L462.05,344.03 L462.39,344.37 L462.72,344.72 L463.01,345.07 L463.25,345.44 L463.43,345.81 L463.53,346.2 L463.55,346.59 L463.51,347.01 L463.4,347.43 L463.24,347.87 L463.06,348.31 L462.86,348.76 L462.68,349.21 L462.54,349.65 L462.44,350.08 L462.41,350.5 L462.45,350.91 L462.57,351.3 L462.76,351.67 L463.02,352.02 L463.34,352.36 L463.69,352.68 L464.06,353 L464.43,353.32 L464.77,353.63 L465.07,353.96 L465.31,354.3 L465.49,354.66 L465.59,355.04 L465.63,355.44 L465.6,355.86 L465.52,356.3 L465.41,356.76 L465.28,357.23 L465.15,357.7 L465.06,358.16 L465,358.62 L465,359.05 L465.08,359.47 L465.22,359.85 L465.44,360.2 L465.73,360.52 L466.08,360.81 L466.47,361.07 L466.89,361.32 L467.32,361.56 L467.73,361.8 L468.1,362.05 L468.44,362.33 L468.71,362.63 L468.92,362.96 L469.07,363.33 L469.15,363.74 L469.18,364.17 L469.16,364.63 L469.13,365.11 L469.09,365.6 L469.07,366.08 L469.07,366.55 L469.13,366.99 L469.24,367.4 L469.42,367.77 L469.66,368.1 L469.97,368.38 L470.34,368.62 L470.76,368.83 L471.2,369.01 L471.66,369.18 L472.11,369.35 L472.54,369.52 L472.94,369.72 L473.29,369.95 L473.58,370.22 L473.81,370.54 L473.98,370.9 L474.11,371.31 L474.19,371.75 L474.25,372.22 L474.29,372.7 L474.34,373.18 L474.41,373.65 L474.52,374.1 L474.67,374.51 L474.87,374.87 L475.14,375.17 L475.47,375.43 L475.84,375.63 L476.27,375.79 L476.72,375.91 L477.2,376.01 L477.67,376.1 L478.14,376.2 L478.58,376.32 L478.98,376.48 L479.34,376.68 L479.64,376.93 L479.89,377.23 L480.09,377.59 L480.26,377.99 L480.39,378.43 L480.52,378.9 L480.64,379.37 L480.77,379.83 L480.93,380.27 L481.12,380.67 L481.36,381.03 L481.64,381.32 L481.98,381.55 L482.36,381.72 L482.78,381.83 L483.24,381.9 L483.71,381.94 L484.2,381.96 L484.68,381.98 L485.15,382.02 L485.59,382.1 L485.99,382.22 L486.35,382.4 L486.67,382.65 L486.94,382.95 L487.17,383.31 L487.37,383.71 L487.55,384.15 L487.71,384.61 L487.88,385.07 L488.06,385.5 L488.26,385.91 L488.5,386.27 L488.78,386.57 L489.11,386.81 L489.47,386.98 L489.88,387.09 L490.32,387.16 L490.79,387.18 L491.28,387.19 L491.76,387.19 L492.24,387.2 L492.7,387.24 L493.13,387.33 L493.51,387.47 L493.86,387.68 L494.16,387.95 L494.42,388.28 L494.64,388.66 L494.83,389.08 L495.01,389.53 L495.17,389.99 L495.35,390.44 L495.54,390.86 L495.75,391.25 L496,391.58 L496.3,391.85 L496.64,392.06 L497.02,392.21 L497.44,392.3 L497.89,392.36 L498.37,392.39 L498.86,392.41 L499.34,392.43 L499.81,392.48 L500.25,392.57 L500.65,392.71 L501.01,392.9 L501.32,393.16 L501.58,393.47 L501.8,393.84 L501.98,394.25 L502.14,394.7 L502.29,395.16 L502.44,395.62 L502.6,396.07 L502.79,396.48 L503.01,396.85 L503.28,397.16 L503.59,397.41 L503.95,397.6 L504.35,397.73 L504.79,397.82 L505.26,397.86 L505.74,397.89 L506.23,397.92 L506.7,397.96 L507.16,398.02 L507.58,398.14 L507.96,398.3 L508.29,398.53 L508.58,398.82 L508.82,399.16 L509.02,399.56 L509.18,400 L509.32,400.46 L509.45,400.93 L509.59,401.39 L509.74,401.82 L509.93,402.22 L510.15,402.57 L510.42,402.87 L510.73,403.1 L511.1,403.29 L511.5,403.42 L511.95,403.52 L512.42,403.6 L512.9,403.67 L513.38,403.75 L513.84,403.85 L514.27,403.99 L514.66,404.18 L514.99,404.42 L515.27,404.72 L515.49,405.07 L515.66,405.47 L515.78,405.92 L515.86,406.39 L515.92,406.87 L515.98,407.35 L516.06,407.82 L516.16,408.26 L516.3,408.66 L516.49,409.01 L516.74,409.32 L517.05,409.58 L517.41,409.79 L517.81,409.97 L518.26,410.12 L518.72,410.26 L519.19,410.4 L519.64,410.56 L520.07,410.73 L520.45,410.95 L520.78,411.21 L521.04,411.52 L521.25,411.87 L521.39,412.27 L521.48,412.71 L521.52,413.17 L521.53,413.66 L521.53,414.14 L521.53,414.62 L521.56,415.08 L521.62,415.52 L521.73,415.91 L521.9,416.27 L522.13,416.59 L522.43,416.86 L522.78,417.11 L523.17,417.34 L523.6,417.55 L524.03,417.76 L524.47,417.98 L524.88,418.22 L525.24,418.49 L525.55,418.78 L525.8,419.12 L525.97,419.5 L526.07,419.9 L526.1,420.34 L526.07,420.8 L526,421.27 L525.9,421.75 L525.79,422.22 L525.69,422.68 L525.62,423.11 L525.59,423.52 L525.61,423.91 L525.71,424.28 L525.88,424.64 L526.1,424.98 L526.39,425.32 L526.72,425.65 L527.06,425.98 L527.41,426.32 L527.74,426.67 L528.04,427.03 L528.27,427.4 L528.44,427.79 L528.53,428.19 L528.54,428.6 L528.47,429.02 L528.33,429.44 L528.15,429.87 L527.93,430.3 L527.69,430.73 L527.47,431.15 L527.27,431.57 L527.12,431.98 L527.03,432.39 L527.02,432.78 L527.09,433.18 L527.28,433.56 L527.51,433.94 L527.76,434.33 L528.01,434.71 L528.23,435.09 L528.41,435.48 L528.54,435.88 L528.62,436.27 L528.65,436.67 L528.63,437.07 L528.6,437.47 L528.55,437.88 L528.5,438.28 L528.49,438.68" fill="none" stroke="#9cadb5" stroke-width="2.2" stroke-linecap="round"/><path d="M518.1,429.8 528.5,440.2 538.4,429.8" fill="none" stroke="#9cadb5" stroke-width="2.2" stroke-linejoin="miter"/>
<path d="M449.1,350.4 L449.19,350.88 L449.3,351.34 L449.43,351.77 L449.62,352.15 L449.86,352.48 L450.15,352.75 L450.5,352.96 L450.91,353.12 L451.35,353.24 L451.82,353.34 L452.3,353.42 L452.78,353.51 L453.23,353.62 L453.64,353.77 L454.01,353.97 L454.32,354.23 L454.57,354.54 L454.77,354.91 L454.91,355.33 L455.03,355.78 L455.12,356.26 L455.21,356.74 L455.31,357.21 L455.44,357.64 L455.61,358.04 L455.83,358.38 L456.11,358.67 L456.45,358.9 L456.84,359.07 L457.27,359.2 L457.74,359.3 L458.22,359.38 L458.7,359.47 L459.16,359.58 L459.58,359.72 L459.96,359.9 L460.28,360.15 L460.55,360.45 L460.76,360.8 L460.91,361.21 L461.03,361.66 L461.13,362.13 L461.21,362.61 L461.3,363.08 L461.42,363.53 L461.58,363.94 L461.78,364.3 L462.04,364.6 L462.36,364.84 L462.74,365.04 L463.16,365.18 L463.62,365.29 L464.09,365.39 L464.57,365.48 L465.03,365.59 L465.47,365.73 L465.85,365.91 L466.19,366.14 L466.46,366.43 L466.68,366.78 L466.84,367.18 L466.97,367.62 L467.06,368.08 L467.14,368.57 L467.22,369.04 L467.33,369.5 L467.47,369.92 L467.66,370.29 L467.91,370.61 L468.21,370.87 L468.57,371.08 L468.99,371.23 L469.44,371.35 L469.91,371.45 L470.39,371.53 L470.86,371.63 L471.3,371.76 L471.7,371.92 L472.05,372.13 L472.35,372.4 L472.58,372.73 L472.76,373.12 L472.9,373.54 L473.01,374 L473.1,374.48 L473.19,374.96 L473.31,375.42 L473.45,375.85 L473.64,376.23 L473.89,376.56 L474.19,376.82 L474.55,377.03 L474.96,377.18 L475.4,377.29 L475.88,377.37 L476.36,377.43 L476.84,377.5 L477.29,377.59 L477.71,377.71 L478.08,377.88 L478.41,378.11 L478.68,378.4 L478.9,378.75 L479.08,379.15 L479.24,379.59 L479.38,380.05 L479.52,380.52 L479.68,380.97 L479.86,381.39 L480.08,381.76 L480.35,382.08 L480.67,382.32 L481.04,382.5 L481.45,382.62 L481.9,382.69 L482.38,382.72 L482.86,382.73 L483.35,382.75 L483.82,382.78 L484.26,382.86 L484.66,382.98 L485.02,383.18 L485.33,383.43 L485.59,383.76 L485.81,384.14 L485.99,384.57 L486.15,385.02 L486.29,385.49 L486.45,385.94 L486.61,386.37 L486.81,386.76 L487.05,387.08 L487.34,387.35 L487.67,387.56 L488.05,387.72 L488.48,387.83 L488.94,387.91 L489.42,387.97 L489.9,388.04 L490.37,388.14 L490.81,388.26 L491.2,388.43 L491.55,388.66 L491.83,388.94 L492.06,389.29 L492.23,389.69 L492.36,390.13 L492.45,390.6 L492.53,391.08 L492.61,391.56 L492.71,392.01 L492.84,392.43 L493.01,392.81 L493.25,393.13 L493.54,393.4 L493.89,393.61 L494.29,393.79 L494.73,393.93 L495.19,394.06 L495.66,394.19 L496.12,394.33 L496.55,394.5 L496.94,394.71 L497.27,394.97 L497.53,395.29 L497.72,395.66 L497.85,396.07 L497.92,396.52 L497.94,397 L497.94,397.48 L497.93,397.97 L497.94,398.44 L497.97,398.88 L498.05,399.29 L498.19,399.66 L498.4,399.98 L498.68,400.28 L499.01,400.54 L499.39,400.78 L499.81,401.01 L500.24,401.25 L500.65,401.5 L501.04,401.77 L501.37,402.07 L501.64,402.41 L501.82,402.78 L501.92,403.19 L501.95,403.62 L501.9,404.07 L501.79,404.53 L501.65,405 L501.49,405.46 L501.34,405.91 L501.23,406.35 L501.17,406.76 L501.17,407.16 L501.25,407.54 L501.41,407.91 L501.64,408.27 L501.92,408.61 L502.24,408.96 L502.59,409.3 L502.92,409.66 L503.22,410.03 L503.46,410.42 L503.64,410.81 L503.73,411.21 L503.74,411.62 L503.66,412.04 L503.51,412.45 L503.3,412.87 L503.05,413.28 L502.79,413.69 L502.54,414.1 L502.32,414.51 L502.15,414.91 L502.05,415.31 L502.03,415.7 L502.1,416.1 L502.23,416.5 L502.44,416.89 L502.7,417.29 L502.97,417.69 L503.2,418.09 L503.37,418.49 L503.49,418.89 L503.53,419.29 L503.51,419.69 L503.45,420.09 L503.35,420.49 L503.23,420.89 L503.12,421.29 L503.03,421.69 L502.97,422.09 L502.96,422.49 L502.99,422.89" fill="none" stroke="#08323a" stroke-width="2.5" stroke-linecap="round"/><path d="M493.8,414.3 503.2,425.2 513,414.3" fill="none" stroke="#08323a" stroke-width="2.9" stroke-linejoin="miter" stroke-linecap="butt"/>
<path d="M535,461 L535.35,461.37 L535.69,461.69 L536.05,461.95 L536.43,462.1 L536.83,462.14 L537.25,462.08 L537.68,461.92 L538.13,461.7 L538.57,461.46 L539.02,461.24 L539.45,461.07 L539.86,461 L540.26,461.03 L540.63,461.17 L541,461.42 L541.36,461.73 L541.71,462.09 L542.07,462.45 L542.44,462.76 L542.83,462.99 L543.23,463.11 L543.64,463.12 L544.05,463.01 L544.46,462.81 L544.89,462.54 L545.31,462.26 L545.73,462 L546.14,461.8 L546.54,461.68 L546.94,461.68 L547.33,461.78 L547.71,461.99 L548.1,462.26 L548.49,462.58 L548.89,462.89 L549.3,463.16 L549.71,463.34 L550.12,463.41 L550.53,463.37 L550.94,463.2 L551.33,462.94 L551.7,462.61 L552.06,462.25 L552.41,461.91 L552.76,461.62 L553.11,461.41 L553.47,461.3 L553.87,461.3 L554.29,461.38 L554.74,461.54 L555.2,461.72 L555.68,461.89 L556.15,462.02 L556.59,462.06 L557.01,462.01 L557.38,461.84 L557.71,461.57 L558.01,461.21 L558.28,460.79 L558.53,460.36 L558.8,459.94 L559.08,459.58 L559.4,459.3 L559.76,459.12 L560.17,459.05 L560.61,459.08 L561.08,459.18 L561.57,459.33 L562.05,459.47 L562.52,459.58 L562.96,459.62 L563.36,459.56 L563.73,459.39 L564.05,459.12 L564.35,458.76 L564.62,458.35 L564.88,457.92 L565.15,457.5 L565.44,457.15 L565.76,456.87 L566.12,456.7 L566.52,456.63 L566.96,456.66 L567.43,456.76 L567.92,456.89 L568.41,457.02 L568.88,457.11 L569.33,457.12 L569.73,457.03 L570.09,456.84 L570.4,456.54 L570.67,456.16 L570.9,455.72 L571.12,455.26 L571.35,454.82 L571.59,454.44 L571.88,454.13 L572.21,453.92 L572.6,453.8 L573.03,453.78 L573.51,453.81 L574.01,453.88 L574.51,453.94 L574.99,453.96 L575.44,453.91 L575.83,453.76 L576.16,453.52 L576.42,453.18 L576.63,452.76 L576.8,452.29 L576.94,451.81 L577.1,451.34 L577.28,450.92 L577.51,450.57 L577.81,450.31 L578.16,450.14 L578.58,450.04 L579.06,449.99 L579.56,449.97 L580.06,449.93 L580.54,449.86 L580.97,449.72 L581.32,449.5 L581.6,449.2 L581.79,448.82 L581.92,448.37 L582,447.88 L582.06,447.38 L582.14,446.89 L582.26,446.45 L582.44,446.07 L582.71,445.76 L583.05,445.54 L583.47,445.39 L583.94,445.3 L584.45,445.24 L584.95,445.19 L585.42,445.11 L585.84,444.97 L586.19,444.75 L586.46,444.46 L586.65,444.08 L586.79,443.64 L586.87,443.15 L586.96,442.66 L587.09,442.21 L587.27,441.83 L587.53,441.52 L587.84,441.27 L588.2,441.07 L588.59,440.9 L588.99,440.73 L589.37,440.55 L589.73,440.35 L590.05,440.1 L590.33,439.82 L590.59,439.52 L590.84,439.2" fill="none" stroke="#08323a" stroke-width="2.4" stroke-linecap="round"/><path d="M580.6,440.9 592,438.4 592.9,450" fill="none" stroke="#08323a" stroke-width="2.5" stroke-linejoin="miter" stroke-linecap="butt"/>
<path d="M459.6,492 L459.15,491.82 L458.7,491.67 L458.26,491.55 L457.84,491.49 L457.43,491.5 L457.03,491.58 L456.66,491.74 L456.3,491.97 L455.96,492.25 L455.63,492.58 L455.3,492.94 L454.98,493.3 L454.65,493.65 L454.31,493.96 L453.96,494.22 L453.59,494.41 L453.21,494.53 L452.81,494.57 L452.39,494.54 L451.96,494.45 L451.51,494.31 L451.06,494.14 L450.61,493.96 L450.16,493.79 L449.72,493.64 L449.29,493.55 L448.87,493.52 L448.47,493.56 L448.09,493.67 L447.72,493.86 L447.37,494.11 L447.03,494.41 L446.69,494.75 L446.36,495.11 L446.03,495.47 L445.7,495.8 L445.36,496.09 L445.01,496.32 L444.64,496.48 L444.26,496.57 L443.85,496.58 L443.42,496.53 L442.98,496.42 L442.53,496.28 L442.08,496.11 L441.62,495.94 L441.17,495.79 L440.74,495.68 L440.31,495.62 L439.91,495.63 L439.52,495.71 L439.15,495.86 L438.8,496.08 L438.45,496.35 L438.11,496.67 L437.77,497.01 L437.43,497.36 L437.07,497.68 L436.71,497.97 L436.33,498.2 L435.93,498.36 L435.53,498.43 L435.11,498.43 L434.69,498.35 L434.26,498.19 L433.84,497.98 L433.43,497.73 L433.02,497.47 L432.61,497.21 L432.22,496.98 L431.82,496.79 L431.43,496.67 L431.04,496.61 L430.65,496.63 L430.25,496.73 L429.85,496.88 L429.44,497.09 L429.03,497.33 L428.62,497.58 L428.2,497.83 L427.78,498.04 L427.36,498.21 L426.95,498.32 L426.54,498.34 L426.13,498.3 L425.74,498.17 L425.35,497.97 L424.98,497.71 L424.61,497.41 L424.24,497.09 L423.88,496.76 L423.53,496.45 L423.16,496.19 L422.8,495.97 L422.42,495.83 L422.03,495.76 L421.63,495.76 L421.22,495.83 L420.79,495.95 L420.36,496.12 L419.92,496.31 L419.47,496.51 L419.02,496.68 L418.58,496.81 L418.14,496.89 L417.72,496.9 L417.32,496.84 L416.93,496.69 L416.57,496.47 L416.22,496.18 L415.9,495.84 L415.59,495.47 L415.29,495.09 L414.99,494.71 L414.69,494.36 L414.39,494.06 L414.06,493.81 L413.71,493.63 L413.34,493.52 L412.94,493.47 L412.51,493.48 L412.06,493.54 L411.59,493.62 L411.11,493.71 L410.63,493.79 L410.16,493.85 L409.71,493.85 L409.29,493.8 L408.89,493.68 L408.53,493.49 L408.21,493.24 L407.92,492.91 L407.66,492.54 L407.42,492.13 L407.2,491.7 L406.97,491.26 L406.74,490.85 L406.49,490.48 L406.22,490.15 L405.91,489.88 L405.58,489.68 L405.2,489.55 L404.79,489.47 L404.35,489.45 L403.88,489.45 L403.4,489.48 L402.91,489.51 L402.43,489.52 L401.97,489.5 L401.54,489.43 L401.14,489.3 L400.79,489.1 L400.47,488.84 L400.2,488.51 L399.97,488.13 L399.77,487.71 L399.59,487.27 L399.42,486.81 L399.24,486.36 L399.05,485.94 L398.83,485.56 L398.58,485.23 L398.28,484.96 L397.94,484.75 L397.56,484.61 L397.14,484.51 L396.68,484.46 L396.21,484.43 L395.72,484.42 L395.24,484.4 L394.77,484.36 L394.33,484.28 L393.92,484.15 L393.56,483.96 L393.24,483.71 L392.97,483.39 L392.75,483.02 L392.56,482.6 L392.41,482.15 L392.27,481.68 L392.14,481.22 L391.99,480.77 L391.83,480.35 L391.62,479.97 L391.37,479.65 L391.08,479.39 L390.73,479.18 L390.34,479.03 L389.91,478.92 L389.44,478.84 L388.96,478.78 L388.48,478.73 L388.01,478.66 L387.56,478.57 L387.14,478.44 L386.77,478.25 L386.45,478.01 L386.18,477.71 L385.96,477.36 L385.78,476.96 L385.64,476.52 L385.51,476.05 L385.38,475.58 L385.25,475.12 L385.1,474.68 L384.91,474.28 L384.68,473.93 L384.39,473.63 L384.06,473.4 L383.68,473.22 L383.25,473.11 L382.8,473.04 L382.32,473 L381.84,472.97 L381.35,472.94 L380.89,472.88 L380.45,472.78 L380.05,472.64 L379.69,472.44 L379.39,472.19 L379.13,471.87 L378.92,471.5 L378.74,471.08 L378.58,470.64 L378.44,470.17 L378.29,469.71 L378.12,469.27 L377.92,468.85 L377.68,468.49 L377.4,468.18 L377.06,467.93 L376.68,467.76 L376.26,467.65 L375.81,467.6 L375.33,467.6 L374.85,467.63 L374.36,467.67 L373.89,467.71 L373.44,467.73 L373.02,467.71 L372.63,467.64 L372.26,467.5 L371.93,467.3 L371.62,467.04 L371.33,466.71 L371.06,466.35 L370.78,465.96 L370.5,465.56 L370.21,465.17 L369.91,464.82 L369.58,464.51 L369.23,464.27 L368.86,464.1 L368.46,464.01 L368.04,463.99 L367.6,464.04 L367.15,464.14 L366.7,464.29 L366.24,464.45 L365.78,464.61 L365.33,464.75 L364.9,464.84 L364.48,464.88 L364.08,464.85 L363.7,464.75 L363.33,464.57 L362.98,464.33 L362.64,464.03 L362.31,463.7 L361.98,463.34 L361.65,462.98 L361.31,462.65 L360.96,462.36 L360.6,462.12 L360.23,461.95 L359.84,461.86 L359.43,461.84 L359.01,461.9 L358.57,462.01 L358.13,462.18 L357.69,462.37 L357.24,462.57 L356.8,462.75 L356.37,462.9 L355.95,463.01 L355.55,463.04 L355.15,463.01 L354.77,462.9 L354.39,462.72 L354.03,462.47 L353.67,462.18 L353.31,461.86 L352.95,461.53 L352.59,461.21 L352.22,460.93 L351.85,460.69 L351.46,460.52 L351.07,460.43 L350.66,460.41 L350.25,460.47 L349.83,460.6 L349.41,460.78 L348.98,461 L348.56,461.23 L348.14,461.47 L347.72,461.68 L347.3,461.84 L346.89,461.95 L346.49,461.98 L346.1,461.94 L345.71,461.82 L345.32,461.64 L344.94,461.4 L344.56,461.12 L344.18,460.83 L343.79,460.53 L343.4,460.26 L343,460.04 L342.6,459.87 L342.2,459.77 L341.8,459.75 L341.39,459.82 L340.99,459.95 L340.58,460.15 L340.18,460.39 L339.78,460.67 L339.38,460.95 L338.99,461.21 L338.59,461.44 L338.2,461.62 L337.8,461.73 L337.4,461.77 L337.01,461.73 L336.61,461.62 L336.2,461.45 L335.79,461.23 L335.39,460.97 L334.98,460.71 L334.57,460.46 L334.16,460.24 L333.75,460.09 L333.34,460.05 L332.93,460.1 L332.53,460.22 L332.13,460.39 L331.74,460.59 L331.36,460.81 L330.98,461.02 L330.6,461.21 L330.22,461.36 L329.83,461.48 L329.44,461.55 L329.04,461.59 L328.64,461.61 L328.23,461.61" fill="none" stroke="#9cadb5" stroke-width="2.2" stroke-linecap="round"/><path d="M334.6,450.2 326.8,461.7 340.5,469.5" fill="none" stroke="#9cadb5" stroke-width="2.2" stroke-linejoin="miter"/>
<path d="M458.7,463.3 L458.22,463.36 L457.75,463.44 L457.3,463.55 L456.9,463.71 L456.55,463.92 L456.25,464.18 L456,464.5 L455.8,464.88 L455.64,465.29 L455.51,465.75 L455.4,466.22 L455.3,466.69 L455.18,467.16 L455.04,467.59 L454.85,467.99 L454.63,468.34 L454.35,468.63 L454.02,468.86 L453.63,469.04 L453.21,469.17 L452.75,469.25 L452.28,469.32 L451.79,469.37 L451.31,469.43 L450.86,469.51 L450.44,469.63 L450.06,469.79 L449.72,470.01 L449.44,470.29 L449.2,470.62 L449,471 L448.83,471.42 L448.68,471.88 L448.54,472.34 L448.39,472.8 L448.21,473.24 L448.01,473.65 L447.76,474 L447.46,474.29 L447.13,474.51 L446.75,474.67 L446.33,474.78 L445.87,474.83 L445.4,474.84 L444.91,474.83 L444.43,474.83 L443.95,474.83 L443.5,474.87 L443.09,474.95 L442.71,475.1 L442.37,475.3 L442.07,475.57 L441.81,475.89 L441.57,476.27 L441.36,476.69 L441.16,477.12 L440.95,477.57 L440.74,478 L440.5,478.39 L440.24,478.74 L439.93,479.03 L439.59,479.25 L439.22,479.41 L438.8,479.49 L438.36,479.52 L437.89,479.5 L437.41,479.45 L436.93,479.38 L436.45,479.32 L435.99,479.29 L435.55,479.3 L435.15,479.36 L434.77,479.49 L434.43,479.68 L434.11,479.94 L433.82,480.26 L433.55,480.63 L433.29,481.03 L433.04,481.44 L432.77,481.85 L432.49,482.23 L432.19,482.56 L431.87,482.84 L431.51,483.05 L431.13,483.19 L430.72,483.25 L430.29,483.24 L429.83,483.18 L429.37,483.08 L428.9,482.95 L428.43,482.82 L427.98,482.7 L427.53,482.63 L427.11,482.6 L426.7,482.64 L426.32,482.75 L425.97,482.93 L425.63,483.18 L425.31,483.49 L424.99,483.84 L424.69,484.21 L424.38,484.59 L424.07,484.96 L423.74,485.28 L423.4,485.55 L423.04,485.76 L422.66,485.9 L422.26,485.95 L421.83,485.94 L421.4,485.86 L420.95,485.73 L420.5,485.57 L420.04,485.4 L419.59,485.23 L419.15,485.1 L418.72,485.01 L418.3,484.98 L417.9,485.03 L417.52,485.15 L417.16,485.34 L416.81,485.59 L416.47,485.9 L416.13,486.24 L415.8,486.6 L415.47,486.95 L415.13,487.27 L414.77,487.55 L414.41,487.76 L414.02,487.91 L413.62,487.98 L413.21,487.97 L412.78,487.89 L412.35,487.75 L411.91,487.56 L411.47,487.36 L411.03,487.15 L410.6,486.96 L410.18,486.8 L409.77,486.7 L409.37,486.67 L408.98,486.7 L408.59,486.81 L408.22,486.99 L407.84,487.23 L407.47,487.51 L407.1,487.81 L406.72,488.12 L406.33,488.4 L405.94,488.65 L405.54,488.84 L405.13,488.95 L404.72,488.99 L404.31,488.95 L403.9,488.83 L403.49,488.64 L403.09,488.39 L402.7,488.11 L402.31,487.81 L401.93,487.52 L401.56,487.26 L401.18,487.04 L400.8,486.89 L400.41,486.8 L400.02,486.79 L399.62,486.84 L399.21,486.97 L398.79,487.14 L398.36,487.34 L397.92,487.56 L397.48,487.77 L397.05,487.95 L396.62,488.08 L396.2,488.15 L395.79,488.15 L395.39,488.07 L395.01,487.91 L394.64,487.69 L394.28,487.41 L393.94,487.08 L393.6,486.74 L393.26,486.39 L392.91,486.06 L392.56,485.78 L392.2,485.55 L391.82,485.39 L391.43,485.3 L391.02,485.29 L390.6,485.36 L390.17,485.48 L389.74,485.64 L389.29,485.83 L388.84,486.02 L388.39,486.19 L387.95,486.32 L387.52,486.4 L387.1,486.41 L386.7,486.35 L386.32,486.2 L385.96,485.99 L385.61,485.71 L385.28,485.38 L384.96,485.02 L384.64,484.65 L384.33,484.29 L384,483.96 L383.66,483.68 L383.31,483.46 L382.94,483.31 L382.54,483.23 L382.13,483.23 L381.7,483.29 L381.25,483.4 L380.8,483.55 L380.34,483.72 L379.88,483.88 L379.44,484.02 L379,484.11 L378.58,484.15 L378.18,484.12 L377.79,484.01 L377.42,483.83 L377.07,483.57 L376.73,483.26 L376.41,482.91 L376.1,482.54 L375.79,482.17 L375.47,481.81 L375.14,481.5 L374.8,481.24 L374.44,481.05 L374.06,480.93 L373.65,480.89 L373.23,480.92 L372.79,481.01 L372.33,481.14 L371.88,481.3 L371.42,481.47 L370.97,481.62 L370.53,481.75 L370.11,481.82 L369.7,481.83 L369.31,481.77 L368.94,481.64 L368.58,481.44 L368.23,481.18 L367.89,480.88 L367.54,480.54 L367.19,480.2 L366.84,479.88 L366.47,479.59 L366.1,479.35 L365.71,479.17 L365.32,479.07 L364.91,479.05 L364.5,479.1 L364.08,479.23 L363.65,479.41 L363.23,479.63 L362.8,479.87 L362.38,480.1 L361.96,480.31 L361.55,480.48 L361.15,480.6 L360.76,480.64 L360.37,480.61 L359.98,480.51 L359.59,480.34 L359.2,480.12 L358.81,479.86 L358.41,479.58 L358.01,479.3 L357.6,479.05 L357.19,478.85 L356.78,478.71 L356.37,478.64 L355.96,478.65 L355.55,478.74 L355.15,478.91 L354.76,479.15 L354.38,479.43 L354.01,479.75 L353.65,480.07 L353.29,480.38 L352.94,480.66 L352.57,480.89 L352.2,481.06 L351.82,481.15 L351.43,481.18 L351.02,481.13 L350.6,481.02 L350.16,480.87 L349.72,480.69 L349.27,480.51 L348.81,480.33 L348.37,480.19 L347.93,480.11 L347.51,480.08 L347.11,480.14 L346.72,480.26 L346.36,480.47 L346.01,480.74 L345.68,481.06 L345.36,481.42 L345.05,481.79 L344.74,482.16 L344.43,482.51 L344.1,482.81 L343.76,483.06 L343.4,483.24 L343.02,483.34 L342.62,483.38 L342.19,483.35 L341.75,483.27 L341.29,483.15 L340.83,483.01 L340.36,482.88 L339.89,482.77 L339.44,482.71 L339.01,482.7 L338.59,482.76 L338.21,482.9 L337.85,483.11 L337.53,483.39 L337.23,483.73 L336.95,484.11 L336.69,484.52 L336.44,484.94 L336.19,485.34 L335.93,485.71 L335.65,486.04 L335.35,486.3 L335.02,486.51 L334.66,486.65 L334.27,486.73 L333.84,486.76 L333.39,486.77 L332.92,486.77 L332.43,486.77 L331.95,486.8 L331.48,486.87 L331.07,487.03 L330.73,487.26 L330.43,487.55 L330.19,487.89 L329.98,488.26 L329.79,488.66 L329.62,489.06 L329.44,489.45 L329.24,489.82 L329.02,490.16 L328.77,490.48 L328.49,490.76 L328.18,491.02 L327.86,491.26 L327.52,491.49" fill="none" stroke="#08323a" stroke-width="2.5" stroke-linecap="round"/><path d="M326.9,478.9 325.7,493.4 340.5,493.4" fill="none" stroke="#08323a" stroke-width="2.9" stroke-linejoin="miter" stroke-linecap="butt"/></svg>
</body></html>
